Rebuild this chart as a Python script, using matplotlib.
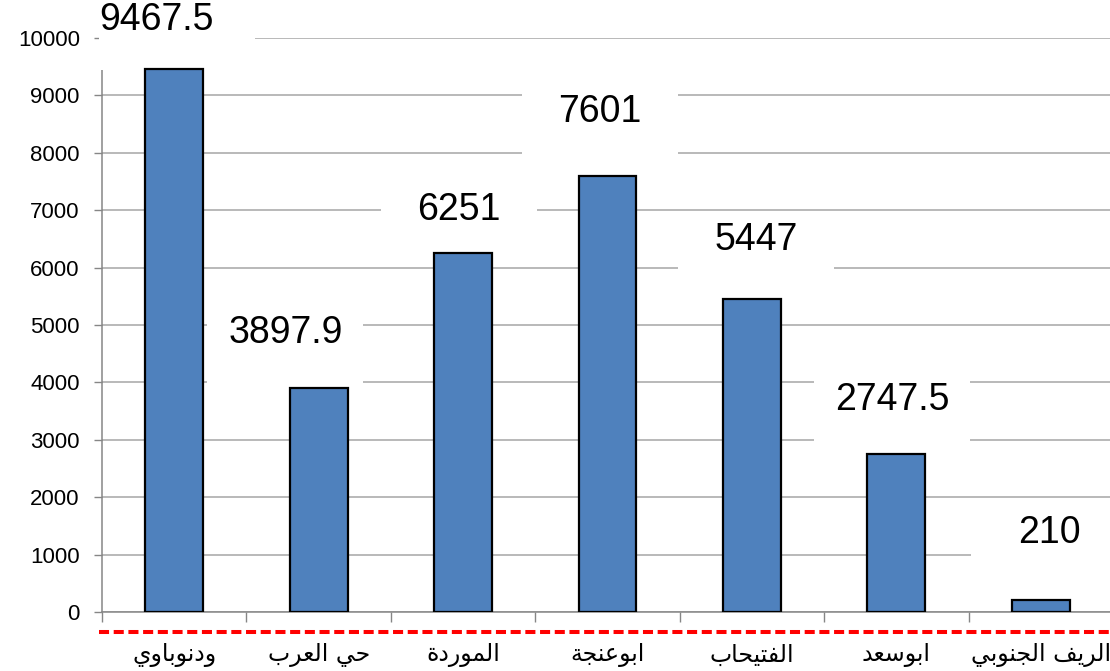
#import modules
import matplotlib
matplotlib.use("Agg")
import matplotlib.pyplot as plt
from matplotlib.patches import Rectangle
import numpy as np

# data
regions = ["ودنوباوي", "حي العرب", "الموردة", "ابوعنجة", "الفتيحاب", "ابوسعد", "الريف الجنوبي"]
values = [9467.5, 3897.9, 6251, 7601, 5447, 2747.5, 210]
y_ticks = [0, 1000, 2000, 3000, 4000, 5000, 6000, 7000, 8000, 9000, 10000]

# label nudges (category units, data units) as placed in the original
label_dx = [-0.12, -0.23, -0.03, -0.05, 0.03, -0.03, 0.06]
label_lift = [846, 963, 752, 1110, 1034, 946, 1166]

# arabic letters -> (isolated, final, initial, medial) presentation forms
forms = {
    "ا": ("\uFE8D", "\uFE8E", None, None),
    "ب": ("\uFE8F", "\uFE90", "\uFE91", "\uFE92"),
    "ة": ("\uFE93", "\uFE94", None, None),
    "ت": ("\uFE95", "\uFE96", "\uFE97", "\uFE98"),
    "ج": ("\uFE9D", "\uFE9E", "\uFE9F", "\uFEA0"),
    "ح": ("\uFEA1", "\uFEA2", "\uFEA3", "\uFEA4"),
    "د": ("\uFEA9", "\uFEAA", None, None),
    "ر": ("\uFEAD", "\uFEAE", None, None),
    "س": ("\uFEB1", "\uFEB2", "\uFEB3", "\uFEB4"),
    "ع": ("\uFEC9", "\uFECA", "\uFECB", "\uFECC"),
    "ف": ("\uFED1", "\uFED2", "\uFED3", "\uFED4"),
    "ل": ("\uFEDD", "\uFEDE", "\uFEDF", "\uFEE0"),
    "م": ("\uFEE1", "\uFEE2", "\uFEE3", "\uFEE4"),
    "ن": ("\uFEE5", "\uFEE6", "\uFEE7", "\uFEE8"),
    "و": ("\uFEED", "\uFEEE", None, None),
    "ي": ("\uFEF1", "\uFEF2", "\uFEF3", "\uFEF4"),
}


def shape(s):
    # join letters and flip to visual order, matplotlib has no bidi
    out = []
    for i, ch in enumerate(s):
        f = forms.get(ch)
        if f is None:
            out.append(ch)
            continue
        prev = s[i - 1] if i > 0 else ""
        nxt = s[i + 1] if i + 1 < len(s) else ""
        jp = prev in forms and forms[prev][2] is not None
        jn = f[2] is not None and nxt in forms
        if jp and jn:
            out.append(f[3])
        elif jp:
            out.append(f[1])
        elif jn:
            out.append(f[2])
        else:
            out.append(f[0])
    return "".join(reversed(out))


plt.rcParams["font.family"] = ["Liberation Sans", "DejaVu Sans"]

fig = plt.figure(figsize=(11.1, 6.71), dpi=100)
ax = fig.add_axes([0.0919, 0.0879, 0.9108, 0.8555])

x = np.arange(len(regions))
ax.bar(x, values, width=0.4, color="#4F81BD", edgecolor="black", linewidth=1.6, zorder=3)

ax.set_xlim(-0.5, len(regions) - 0.5)
ax.set_ylim(0, 10000)
ax.set_yticks(y_ticks)
ax.set_yticklabels([str(t) for t in y_ticks], fontsize=16)
ax.yaxis.grid(True, color="#A6A6A6", linewidth=1.1)
ax.set_axisbelow(True)

ax.set_xticks(x)
ax.set_xticklabels([shape(r) for r in regions], fontsize=17, family=["DejaVu Sans"])
ax.set_xticks(np.arange(len(regions) + 1) - 0.5, minor=True)
ax.tick_params(axis="x", which="major", length=0, pad=22)
ax.tick_params(axis="x", which="minor", length=7, color="#868686", width=1)
ax.tick_params(axis="y", length=6, color="#868686", width=1, pad=10)

for side in ["top", "right"]:
    ax.spines[side].set_visible(False)
for side in ["left", "bottom"]:
    ax.spines[side].set_color("#868686")
    ax.spines[side].set_linewidth(1.1)

# value labels sitting on white boxes that cut through the grid
for i, v in enumerate(values):
    tx = i + label_dx[i]
    ty = v + label_lift[i]
    bx = max(tx - 0.54, -0.52)
    ax.add_patch(Rectangle((bx, ty - 870), 1.08, 1290, facecolor="white",
                           edgecolor="none", zorder=2.6, clip_on=False))
    ax.text(tx, ty, f"{v:g}", ha="center", va="center", fontsize=27,
            color="black", zorder=5, clip_on=False)

# red dashed line under the axis
ax.axhline(-340, xmin=-0.003, xmax=1, color="#FF0000", linewidth=2.9,
           linestyle=(0, (2.5, 1.15)), clip_on=False, zorder=4)

plt.savefig("out.png", dpi=100)
